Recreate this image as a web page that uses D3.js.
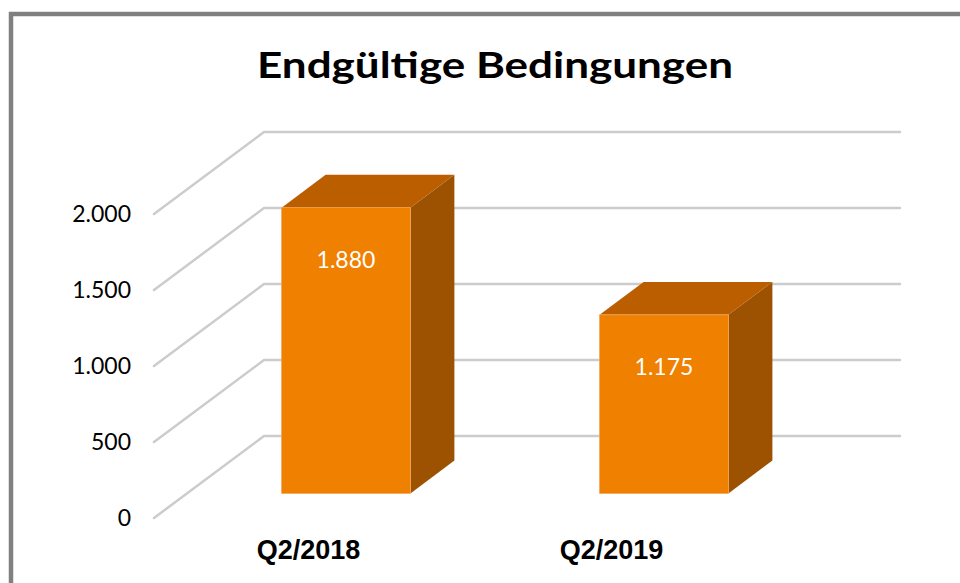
<!DOCTYPE html>
<html>
<head>
<meta charset="utf-8">
<script src="https://cdn.jsdelivr.net/npm/d3@7"></script>
<style>
  html, body { margin: 0; padding: 0; background: #fff; }
  svg { display: block; }
</style>
</head>
<body>
<div id="container"></div>
<script>
/* CONSTANTS AND GLOBALS */
const width = 960,
  height = 583;

// data
const categories = ["Q2/2018", "Q2/2019"];
const values = [1880, 1175];
const yTicks = [0, 500, 1000, 1500, 2000];
const title = "Endgültige Bedingungen";

// 3d look: how far the back wall is shifted from the front plane
const depth = { dx: 110, dy: 82 };
const barZ = [0.3, 0.7];

const de = d3.formatLocale({ decimal: ",", thousands: ".", grouping: [3], currency: ["", " €"] });
const fmt = de.format(",d");

/* SCALES */
const xScale = d3.scaleBand()
  .domain(categories)
  .range([154, 790]);

const yScale = d3.scaleLinear()
  .domain([0, 2000])
  .range([518, 214]);

const labelScale = d3.scaleBand()
  .domain(categories)
  .range([157, 763]);

// project a point (x on front plane, value, depth 0..1) to the screen
const px = (x, z) => x + z * depth.dx;
const py = (v, z) => yScale(v) - z * depth.dy;

/* SVG */
const svg = d3.select("#container")
  .append("svg")
  .attr("width", width)
  .attr("height", height);

svg.append("rect")
  .attr("x", 11)
  .attr("y", 14)
  .attr("width", 1000)
  .attr("height", 700)
  .attr("fill", "#fff")
  .attr("stroke", "#808080")
  .attr("stroke-width", 4.5);

// title
svg.append("text")
  .attr("x", 495)
  .attr("y", 78)
  .attr("text-anchor", "middle")
  .attr("textLength", 476)
  .attr("lengthAdjust", "spacingAndGlyphs")
  .style("font-family", "Lato, 'Open Sans', sans-serif")
  .style("font-weight", 700)
  .style("font-size", "37px")
  .style("fill", "#000")
  .text(title);

// gridlines: diagonal on the side wall + horizontal on the back wall
const x0 = xScale.range()[0],
  x1 = xScale.range()[1];

const grid = svg.append("g")
  .attr("fill", "none")
  .attr("stroke", "#cccccc")
  .attr("stroke-width", 2.5)
  .attr("stroke-linejoin", "round")
  .attr("stroke-linecap", "round");

grid.selectAll("path.grid")
  .data(yTicks)
  .join("path")
  .attr("class", "grid")
  .attr("d", d => d3.line()([
    [px(x0, 0), py(d, 0)],
    [px(x0, 1), py(d, 1)],
    [px(x1, 1), py(d, 1)]
  ]));

// y axis
const yAxis = d3.axisLeft(yScale)
  .tickValues(yTicks)
  .tickFormat(fmt)
  .tickSize(0)
  .tickPadding(23);

svg.append("g")
  .attr("transform", `translate(${x0},0)`)
  .call(yAxis)
  .call(g => g.select(".domain").remove())
  .selectAll("text")
  .style("font-family", "Lato, 'Open Sans', sans-serif")
  .style("font-size", "23px")
  .style("fill", "#000");

// bars
const barW = xScale.bandwidth() * 0.405;
const bars = svg.selectAll("g.bar")
  .data(categories.map((c, i) => ({ cat: c, value: values[i] })))
  .join("g")
  .attr("class", "bar");

const [zf, zb] = barZ;
const left = d => xScale(d.cat) + (xScale.bandwidth() - barW) / 2;

// side face
bars.append("path")
  .attr("fill", "#9c5200")
  .attr("d", d => d3.line()([
    [px(left(d) + barW, zf), py(0, zf)],
    [px(left(d) + barW, zb), py(0, zb)],
    [px(left(d) + barW, zb), py(d.value, zb)],
    [px(left(d) + barW, zf), py(d.value, zf)]
  ]) + "Z");

// top face
bars.append("path")
  .attr("fill", "#ba5e00")
  .attr("d", d => d3.line()([
    [px(left(d), zf), py(d.value, zf)],
    [px(left(d), zb), py(d.value, zb)],
    [px(left(d) + barW, zb), py(d.value, zb)],
    [px(left(d) + barW, zf), py(d.value, zf)]
  ]) + "Z");

// front face
bars.append("rect")
  .attr("x", d => px(left(d), zf))
  .attr("y", d => py(d.value, zf))
  .attr("width", barW)
  .attr("height", d => py(0, zf) - py(d.value, zf))
  .attr("fill", "#f08000")
  .attr("stroke", "#f3a65a")
  .attr("stroke-width", 0.8);

// value labels
bars.append("text")
  .attr("x", d => px(left(d) + barW / 2, zf))
  .attr("y", d => py(d.value, zf) + 60)
  .attr("text-anchor", "middle")
  .style("font-family", "Lato, 'Open Sans', sans-serif")
  .style("font-size", "23px")
  .style("fill", "#fff")
  .text(d => fmt(d.value));

// category labels
svg.selectAll("text.cat")
  .data(categories)
  .join("text")
  .attr("class", "cat")
  .attr("x", d => labelScale(d) + labelScale.bandwidth() / 2)
  .attr("y", 559)
  .attr("text-anchor", "middle")
  .style("font-family", "'Liberation Sans', Arial, sans-serif")
  .style("font-weight", 700)
  .style("font-size", "27px")
  .style("fill", "#000")
  .text(d => d);
</script>
</body>
</html>
